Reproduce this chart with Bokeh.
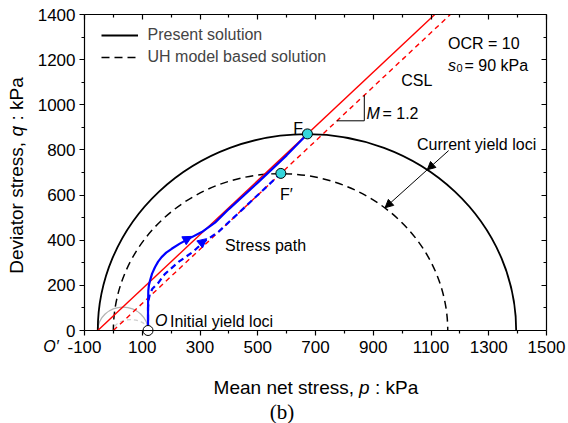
import math
from bokeh.plotting import figure
from bokeh.models import (Range1d, FixedTicker, LinearAxis, Label, Arrow,
                          NormalHead, Legend, LegendItem)
from bokeh.embed import file_html
from bokeh.resources import INLINE

# ---------------- data ----------------
x_ticks = [-100, 100, 300, 500, 700, 900, 1100, 1300, 1500]
x_minor = [0, 200, 400, 600, 800, 1000, 1200, 1400]
x_tick_labels = ["-100", "100", "300", "500", "700", "900", "1100", "1300", "1500"]
y_ticks = [0, 200, 400, 600, 800, 1000, 1200, 1400]
y_minor = [100, 300, 500, 700, 900, 1100, 1300]
y_tick_labels = ["0", "200", "400", "600", "800", "1000", "1200", "1400"]
x_bounds = (-100, 1500)
y_bounds = (0, 1400)

# yield loci: p at both ends on the p axis (kPa) and peak q (kPa)
present_locus_p = [-54, 1395]
present_locus_peak = 870
uh_locus_p = [0, 1158]
uh_locus_peak = 695
init_present_locus_p = [-54, 120]
init_present_locus_peak = 104
init_uh_locus_p = [0, 120]
init_uh_locus_peak = 48

# critical state lines (M = 1.2)
csl_present_p = [-54, 1113]
csl_present_q = [0, 1400]
csl_uh_p = [0, 1167]
csl_uh_q = [0, 1400]

# stress paths
path_present_p = [120, 120, 121, 123, 127, 134, 144, 155, 167, 183, 202, 230, 260, 306,
                  352, 400, 500, 600, 672]
path_present_q = [0, 100, 177, 200, 221, 252, 280, 305, 325, 345, 362, 385, 406, 436,
                  478, 538, 655, 776, 871]
path_uh_p = [120, 120, 122, 126, 135, 155, 178, 227, 277, 312, 363, 450, 580]
path_uh_q = [0, 100, 135, 160, 185, 210, 250, 305, 350, 392, 436, 540, 696]

failure_p = [672, 580]      # F, F'
failure_q = [871, 696]
initial_p = [120]           # O
initial_q = [0]

slope_tri_p = [774, 869, 869]
slope_tri_q = [929, 929, 1043]

# ---------------- figure ----------------
FONT = "Liberation Sans"
W, H = 568, 423
# margins (px) around the axes box: left, right, top, bottom
ML, MR, MT, MB = 84, 22, 14, 93
sx = (W - ML - MR) / (x_bounds[1] - x_bounds[0])
sy = (H - MT - MB) / (y_bounds[1] - y_bounds[0])
x_range = Range1d(x_bounds[0] - ML / sx, x_bounds[1] + MR / sx)
y_range = Range1d(y_bounds[0] - MB / sy, y_bounds[1] + MT / sy)

p = figure(width=W, height=H, x_range=x_range, y_range=y_range,
           output_backend="svg", toolbar_location=None,
           min_border_left=0, min_border_right=0, min_border_top=0, min_border_bottom=0)
p.grid.visible = False
p.outline_line_color = None
p.background_fill_color = "white"
p.border_fill_color = "white"


def style_axis(ax, ticks, minor, labels=None, fixed=0, bounds=None, inward=False):
    ax.ticker = FixedTicker(ticks=ticks, minor_ticks=minor)
    ax.fixed_location = fixed
    ax.bounds = bounds
    ax.axis_line_width = 1.2
    ax.major_tick_line_width = 1.2
    ax.minor_tick_line_width = 1.2
    ax.axis_line_color = "black"
    ax.major_tick_line_color = "black"
    ax.minor_tick_line_color = "black"
    if inward:
        ax.major_tick_in, ax.major_tick_out = 5, 0
        ax.minor_tick_in, ax.minor_tick_out = 3, 0
        ax.major_label_text_color = None
        ax.major_label_text_font_size = "1px"
    else:
        ax.major_tick_in, ax.major_tick_out = 0, 5
        ax.minor_tick_in, ax.minor_tick_out = 0, 3
        ax.major_label_overrides = {t: s for t, s in zip(ticks, labels)}
        ax.major_label_text_font = FONT
        ax.major_label_text_font_size = "17px"
        ax.major_label_text_color = "black"


xax = p.xaxis[0]
yax = p.yaxis[0]
style_axis(xax, x_ticks, x_minor, x_tick_labels, fixed=y_bounds[0], bounds=x_bounds)
style_axis(yax, y_ticks, y_minor, y_tick_labels, fixed=x_bounds[0], bounds=y_bounds)
xax.major_label_standoff = 5
yax.major_label_standoff = 4

rax = LinearAxis()
style_axis(rax, y_ticks, y_minor, fixed=x_bounds[1], bounds=y_bounds, inward=True)
p.add_layout(rax, "right")
tax = LinearAxis()
style_axis(tax, x_ticks, x_minor, fixed=y_bounds[1], bounds=x_bounds, inward=True)
p.add_layout(tax, "above")


# yield loci as ellipses centred on the p axis
def locus(ends, peak, **kw):
    p.ellipse(x=[(ends[0] + ends[1]) / 2], y=[0], width=[ends[1] - ends[0]],
              height=[2 * peak], fill_color=None, **kw)

locus(init_present_locus_p, init_present_locus_peak, line_color="#b4b4b4", line_width=1.3)
locus(init_uh_locus_p, init_uh_locus_peak, line_color="#cfcfcf", line_width=1.3, line_dash="4 3")
locus(present_locus_p, present_locus_peak, line_color="black", line_width=1.8)
locus(uh_locus_p, uh_locus_peak, line_color="black", line_width=1.5, line_dash="8 5")

# hide the lower halves of the loci (region below q = 0)
p.quad(left=[x_range.start], right=[x_range.end], bottom=[y_range.start], top=[y_bounds[0]],
       fill_color="white", line_color=None)

# CSLs
p.line(csl_present_p, csl_present_q, line_color="red", line_width=1.4)
p.line(csl_uh_p, csl_uh_q, line_color="red", line_width=1.4, line_dash="5 4")

# slope triangle
p.line(slope_tri_p, slope_tri_q, line_color="black", line_width=1)

# stress paths
p.line(path_uh_p, path_uh_q, line_color="blue", line_width=2.2, line_dash="6 4",
       line_join="round")
p.line(path_present_p, path_present_q, line_color="blue", line_width=2.2, line_join="round")

# direction arrows on paths
for xs, ys, xe, ye in ((255, 405, 272, 417), (305, 388, 323, 407)):
    p.add_layout(Arrow(x_start=xs, y_start=ys, x_end=xe, y_end=ye, line_alpha=0,
                       end=NormalHead(size=9, fill_color="blue", line_color="blue")))

# markers
p.scatter(failure_p, failure_q, size=10, fill_color="#35d6dc", line_color="black", line_width=1)
p.scatter(initial_p, initial_q, size=10, fill_color="white", line_color="black", line_width=1)

# current yield loci arrow
for xs, ys, xe, ye in ((1161, 797, 1087, 712), (1087, 712, 941, 544)):
    p.add_layout(Arrow(x_start=xs, y_start=ys, x_end=xe, y_end=ye, line_width=1,
                       end=NormalHead(size=8, fill_color="black", line_color="black", line_width=1)))

# legend
nan = float("nan")
l1 = p.line([nan], [nan], line_color="black", line_width=1.8)
l2 = p.line([nan], [nan], line_color="black", line_width=1.5, line_dash="8 5")
legend = Legend(items=[LegendItem(label="Present solution", renderers=[l1]),
                       LegendItem(label="UH model based solution", renderers=[l2])],
                location=(ML + 16.5, MB + 263), padding=5, margin=0, glyph_width=37,
                glyph_height=20, label_height=20, label_standoff=10, spacing=2,
                border_line_color=None, background_fill_alpha=0,
                label_text_font=FONT, label_text_font_size="16px")
p.add_layout(legend)


def txt(x, y, s, size="16px", style="normal", align="left", angle=0, font=FONT):
    p.add_layout(Label(x=x, y=y, text=s, text_font=font, text_font_size=size,
                       text_font_style=style, text_align=align, text_baseline="alphabetic",
                       angle=angle, text_color="black"))

txt(1159, 1272, "OCR = 10")
txt(1159, 1174, "s", style="italic")
txt(1188, 1162, "0", size="11px")
txt(1216, 1174, "= 90 kPa")
txt(1051, 1108, "CSL", align="center")
txt(877, 960, "M", style="italic")
txt(932, 960, "= 1.2")
txt(1258, 823, "Current yield loci", align="center")
txt(623, 894, "F")
txt(577, 603, "F\u2032")
txt(387, 377, "Stress path")
txt(144, 44, "O", style="italic")
txt(196, 40, "Initial yield loci")
txt(-243, -70, "O\u2032", style="italic")

# axis titles and panel tag
txt(347, -251, "Mean net stress,", size="19px")
txt(851, -251, "p", size="19px", style="italic")
txt(906, -251, ": kPa", size="19px")
txt(-335, 251, "Deviator stress,", size="19px", angle=math.pi / 2)
txt(-335, 860, "q", size="19px", style="italic", angle=math.pi / 2)
txt(-335, 930, ": kPa", size="19px", angle=math.pi / 2)
txt(584, -360, "(b)", size="21px", align="center", font="Liberation Serif")

open("out.html", "w").write(file_html(p, INLINE))
